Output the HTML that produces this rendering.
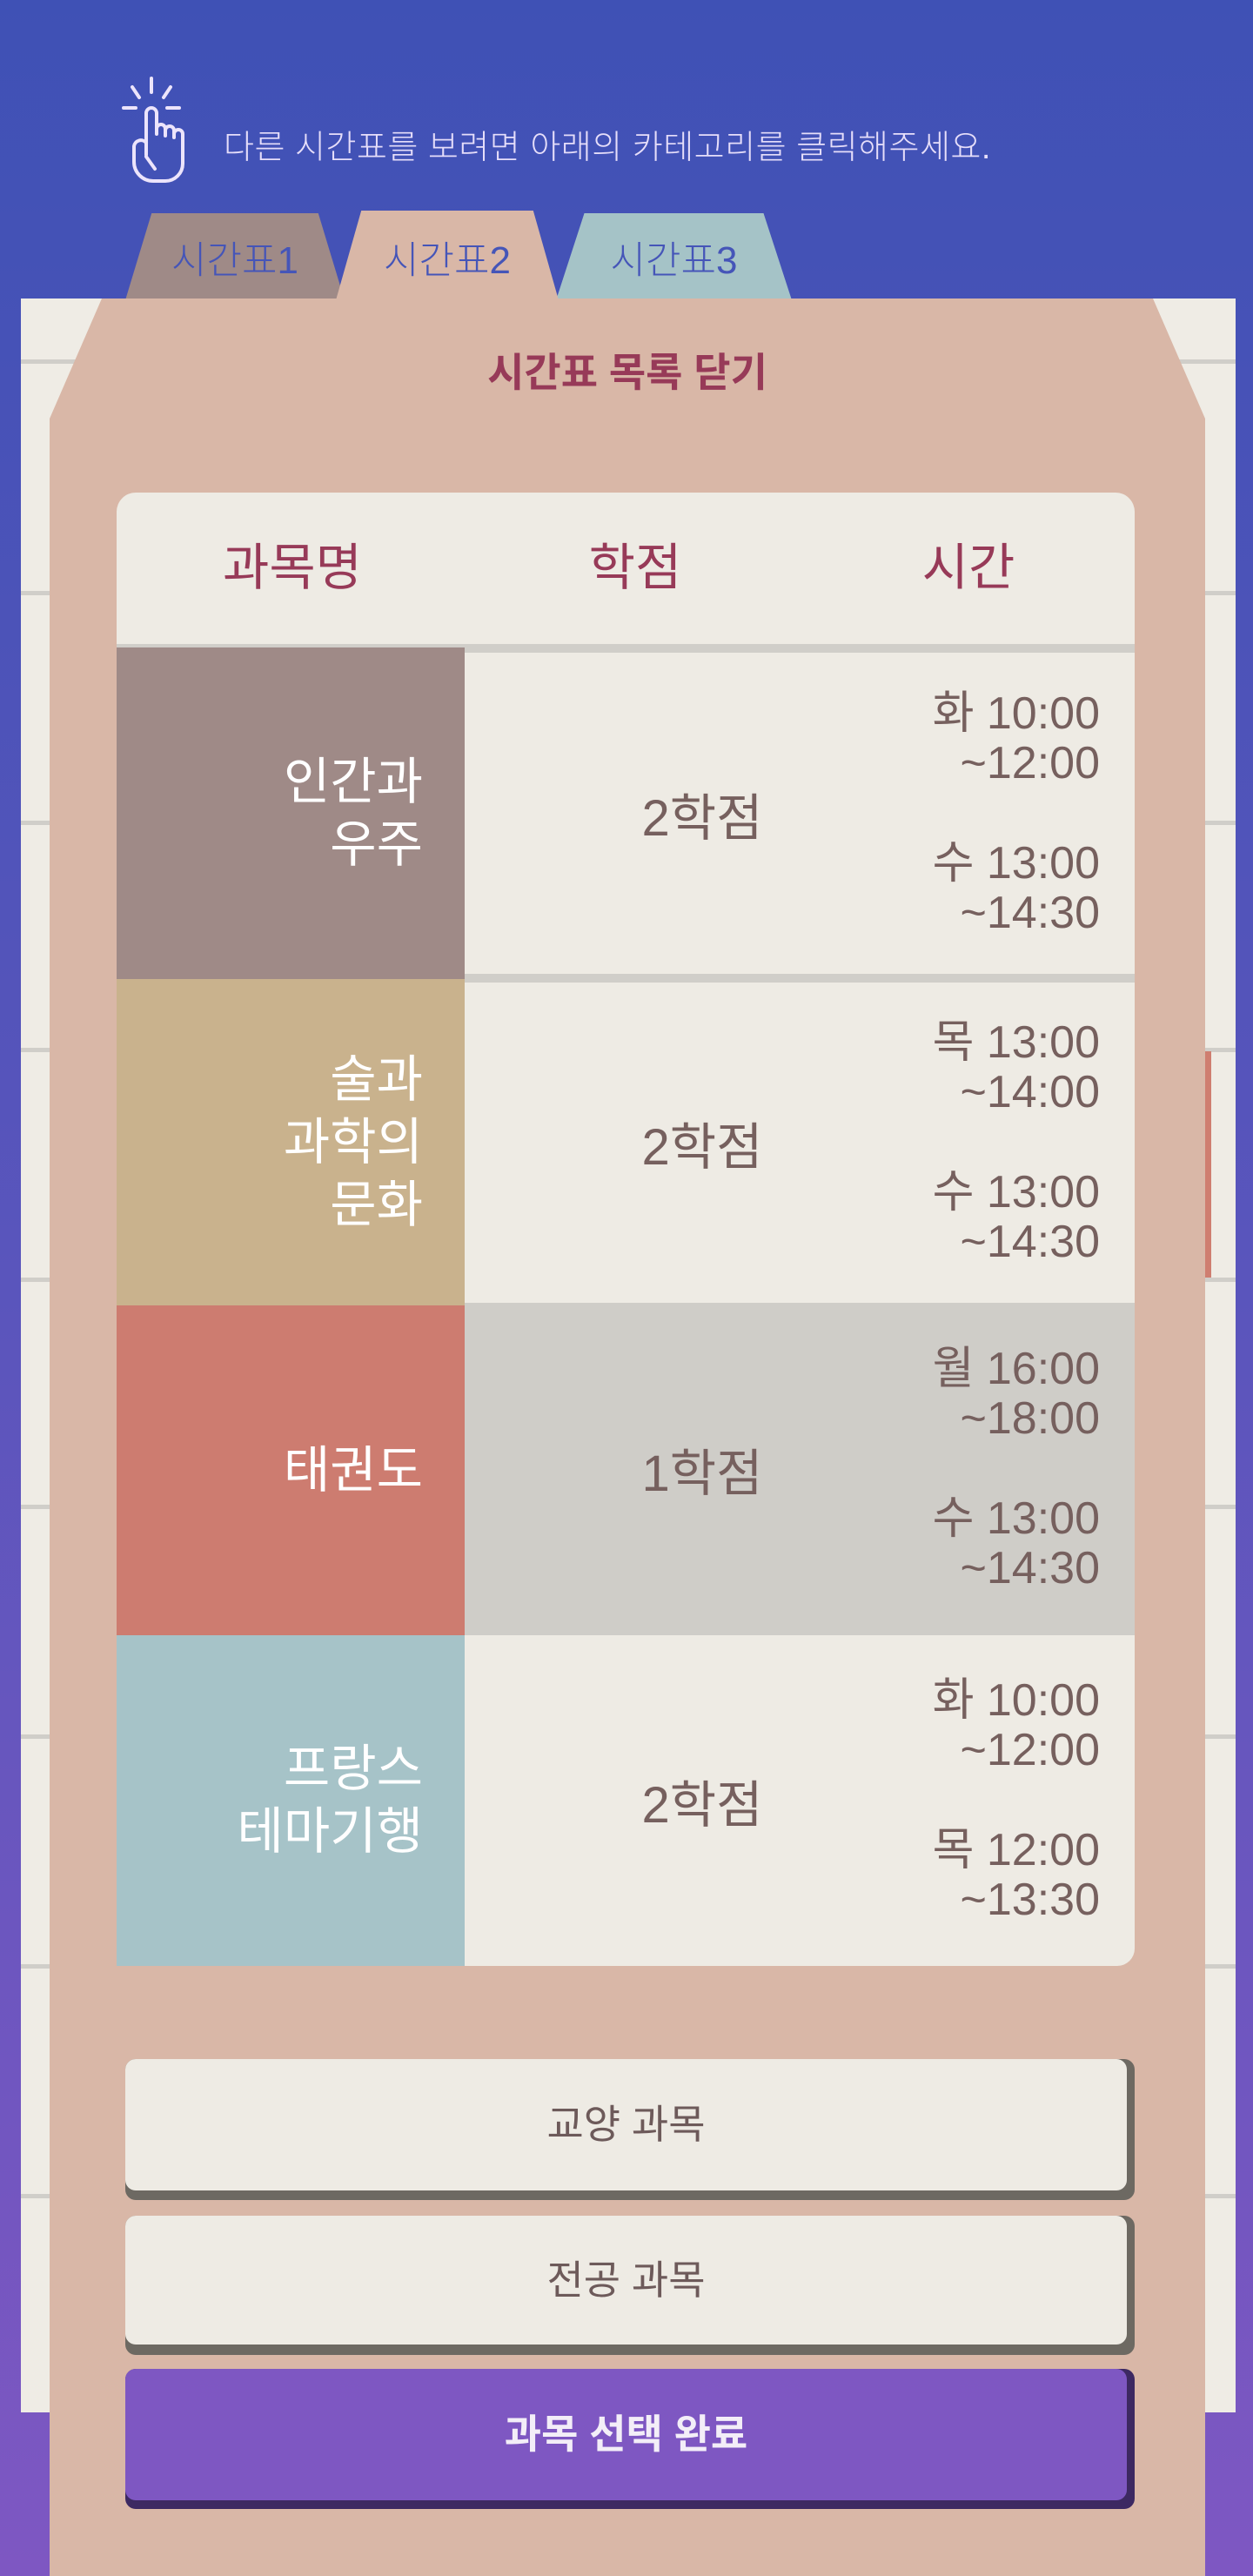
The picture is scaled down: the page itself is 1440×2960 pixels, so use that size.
<!DOCTYPE html>
<html><head><meta charset="utf-8"><style>
*{margin:0;padding:0;box-sizing:border-box}
body{width:1440px;height:2960px;position:relative;overflow:hidden;background:linear-gradient(#3f51b5 0%,#5a55bc 50%,#7e57c2 100%);font-family:"Liberation Sans","Noto Sans CJK KR",sans-serif}
.abs{position:absolute}
.hint{left:257px;top:138px;font-size:38px;color:#e6defa;font-weight:300;letter-spacing:0.5px;white-space:nowrap}
.tab{top:245px;height:100px;clip-path:polygon(12% 0,88% 0,100% 100%,0 100%);border-radius:14px 14px 0 0;color:#4555b8;font-size:44px;font-weight:300;text-align:center;line-height:110px}
.paper{left:24px;top:343px;width:1396px;height:2429px;background:#efece5}
.pline{left:24px;width:1396px;height:5px;background:#d0cec9}
.panel{left:57px;top:343px;width:1328px;height:2617px;background:#d9b7a7;clip-path:polygon(60px 0,1268px 0,1328px 138px,1328px 100%,0 100%,0 138px)}
.title{left:57px;width:1328px;top:392px;text-align:center;font-size:46px;font-weight:bold;color:#973a58}
.head{left:134px;top:566px;width:1170px;height:174px;background:#eeebe4;border-radius:22px 22px 0 0}
.hcell{top:0;height:174px;line-height:174px;font-size:58px;color:#973a58;text-align:center;width:300px}
.div{left:534px;width:770px;height:10px;background:#d0cec9}
.name{left:134px;width:400px;color:#fff;font-size:58px;text-align:right;padding-right:48px;display:flex;flex-direction:column;justify-content:center;line-height:72px}
.cell{left:534px;width:770px;background:#eeebe4}
.credit{position:absolute;left:0;width:546px;top:0;bottom:0;display:flex;align-items:center;justify-content:center;font-size:58px;color:#76605e}
.times{position:absolute;right:40px;top:0;bottom:0;display:flex;flex-direction:column;justify-content:center;text-align:right;font-size:52px;color:#76605e;line-height:57px}
.gap{height:58px}
.btn{left:144px;width:1160px;border-radius:12px;font-size:46px;text-align:center;color:#6d5a5a}
</style></head><body>
<svg class="abs" style="left:138px;top:88px" width="84" height="124" viewBox="0 0 84 124" fill="none" stroke="#ece4fb" stroke-width="4" stroke-linecap="round">
<line x1="36" y1="2" x2="36" y2="18"/><line x1="14" y1="12" x2="22" y2="24"/><line x1="58" y1="12" x2="50" y2="24"/><line x1="4" y1="36" x2="18" y2="36"/><line x1="54" y1="36" x2="68" y2="36"/>
<path d="M30 90 V42 a6 6 0 0 1 12 0 V66 M42 60 a5 5 0 0 1 10 0 V68 M52 62 a5 5 0 0 1 10 0 V70 M62 66 a5 5 0 0 1 10 0 V100 a20 20 0 0 1 -20 20 H38 a22 22 0 0 1 -22 -22 V80 a8 8 0 0 1 14 -4 M30 92 l10 14"/>
</svg>
<div class="abs hint">다른 시간표를 보려면 아래의 카테고리를 클릭해주세요.</div>
<div class="abs tab" style="left:144px;width:252px;background:#9f8a87">시간표1</div>
<div class="abs tab" style="left:639px;width:271px;background:#a5c3c7">시간표3</div>
<div class="abs tab" style="left:384px;top:242px;width:260px;height:110px;background:#d9b7a7;line-height:116px">시간표2</div>
<div class="abs paper"></div>
<div class="abs pline" style="top:413px"></div>
<div class="abs pline" style="top:679px"></div>
<div class="abs pline" style="top:943px"></div>
<div class="abs pline" style="top:1204px"></div>
<div class="abs pline" style="top:1468px"></div>
<div class="abs pline" style="top:1729px"></div>
<div class="abs pline" style="top:1993px"></div>
<div class="abs pline" style="top:2257px"></div>
<div class="abs pline" style="top:2521px"></div>
<div class="abs" style="left:1383px;top:1208px;width:9px;height:260px;background:#cf7e70"></div>
<div class="abs panel"></div>
<div class="abs title">시간표 목록 닫기</div>
<div class="abs head">
<div class="abs hcell" style="left:52px">과목명</div>
<div class="abs hcell" style="left:446px">학점</div>
<div class="abs hcell" style="left:829px">시간</div>
</div>
<div class="abs div" style="left:134px;width:1170px;top:740px"></div>

<div class="abs name" style="top:744px;height:381px;background:#9f8a87"><div>인간과</div><div>우주</div></div>
<div class="abs cell" style="top:750px;height:369px"><div class="credit">2학점</div><div class="times"><div>화 10:00</div><div>~12:00</div><div class="gap"></div><div>수 13:00</div><div>~14:30</div></div></div>
<div class="abs div" style="top:1119px"></div>

<div class="abs name" style="top:1125px;height:375px;background:#c9b28d"><div>술과</div><div>과학의</div><div>문화</div></div>
<div class="abs cell" style="top:1129px;height:368px"><div class="credit">2학점</div><div class="times"><div>목 13:00</div><div>~14:00</div><div class="gap"></div><div>수 13:00</div><div>~14:30</div></div></div>

<div class="abs name" style="top:1500px;height:379px;background:#cd7c70"><div>태권도</div></div>
<div class="abs cell" style="top:1497px;height:382px;background:#cfcdc8"><div class="credit">1학점</div><div class="times"><div>월 16:00</div><div>~18:00</div><div class="gap"></div><div>수 13:00</div><div>~14:30</div></div></div>

<div class="abs name" style="top:1879px;height:380px;background:#a6c3c8"><div>프랑스</div><div>테마기행</div></div>
<div class="abs cell" style="top:1879px;height:380px;border-radius:0 0 20px 0"><div class="credit">2학점</div><div class="times"><div>화 10:00</div><div>~12:00</div><div class="gap"></div><div>목 12:00</div><div>~13:30</div></div></div>

<div class="abs btn" style="top:2366px;height:162px;background:#6d6962"></div>
<div class="abs btn" style="top:2366px;width:1151px;height:151px;line-height:151px;background:#eeebe4">교양 과목</div>
<div class="abs btn" style="top:2546px;height:160px;background:#6d6962"></div>
<div class="abs btn" style="top:2546px;width:1151px;height:148px;line-height:148px;background:#eeebe4">전공 과목</div>
<div class="abs btn" style="top:2722px;height:161px;background:#3d2962"></div>
<div class="abs btn" style="top:2722px;width:1151px;height:151px;line-height:151px;background:#7e57c2;color:#f3eef8;font-weight:bold">과목 선택 완료</div>
</body></html>
